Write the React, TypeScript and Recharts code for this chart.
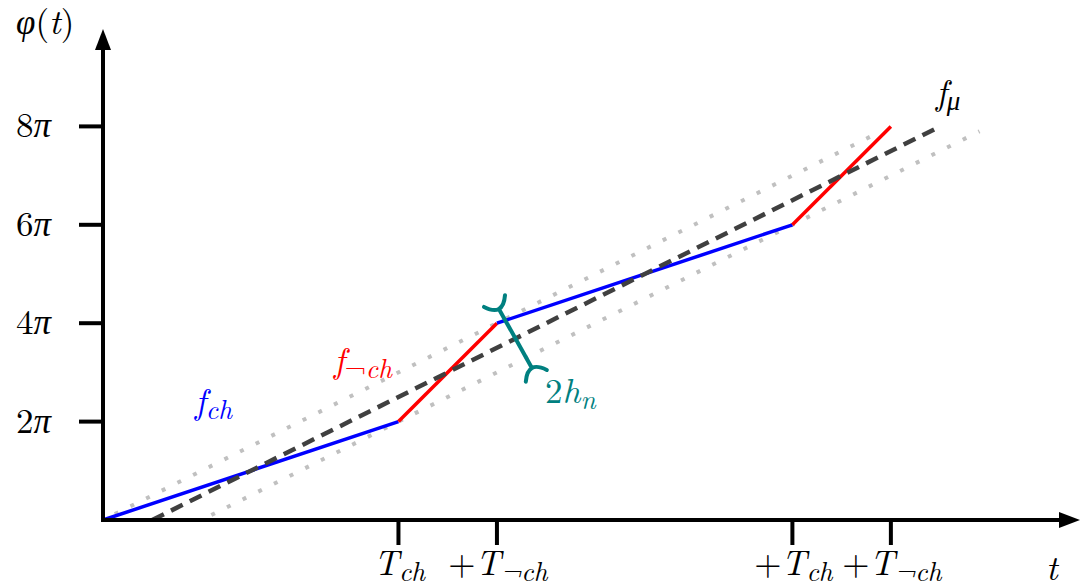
import React from "react";
import { ComposedChart, Line, XAxis, YAxis, ReferenceLine, Customized } from "recharts";

// time in units (T_ch = 3, T_notch = 1), phase in multiples of π
const chSeg1 = [{ t: 0, y: 0 }, { t: 3, y: 2 }];
const notchSeg1 = [{ t: 3, y: 2 }, { t: 4, y: 4 }];
const chSeg2 = [{ t: 4, y: 4 }, { t: 7, y: 6 }];
const notchSeg2 = [{ t: 7, y: 6 }, { t: 8, y: 8 }];
const meanLine = [{ t: 0.5, y: 0 }, { t: 8.5, y: 8 }];
const upperBound = [{ t: 0.12, y: 0.12 }, { t: 7.9, y: 7.9 }];
const lowerBound = [{ t: 1.1, y: 0.1 }, { t: 8.9, y: 7.9 }];
const braceEnds = [{ t: 4.02, y: 4.29 }, { t: 4.355, y: 3.09 }];

const xTickValues = [3, 4, 7, 8];
const xTickPrefix = ["", "+", "+", "+"];
const xTickSub = ["ch", "¬ch", "ch", "¬ch"];
const yTickValues = [2, 4, 6, 8];
const yTickLabels = ["2", "4", "6", "8"];

const FONT = '"Latin Modern Roman"';
const FS = 35;
const SFS = 27;
const TS: React.CSSProperties = { fontFamily: FONT, fontSize: FS };
const IT: React.CSSProperties = { fontStyle: "italic" };
const SUB: React.CSSProperties = { fontSize: SFS };

const XTick = (props: any) => {
  const { x, y, payload } = props;
  const i = xTickValues.indexOf(payload.value);
  return (
    <g>
      <line x1={x} y1={y} x2={x} y2={y + 25} stroke="#000" strokeWidth={4} />
      <text x={x + 1} y={y + 55} textAnchor="middle" style={TS} fill="#000">
        <tspan>{xTickPrefix[i]}</tspan>
        <tspan style={IT}>T</tspan>
        <tspan style={{ ...IT, ...SUB }} dy={6}>{xTickSub[i]}</tspan>
      </text>
    </g>
  );
};

const YTick = (props: any) => {
  const { x, y, payload } = props;
  const i = yTickValues.indexOf(payload.value);
  return (
    <g>
      <line x1={x - 24} y1={y} x2={x} y2={y} stroke="#000" strokeWidth={4} />
      <text x={x - 52} y={y + 11} textAnchor="end" style={TS} fill="#000">
        <tspan>{yTickLabels[i]}</tspan>
        <tspan style={IT}>π</tspan>
      </text>
    </g>
  );
};

const XArrow = (p: any) => {
  const { x1, y1, x2, y2 } = p;
  return (
    <g>
      <line x1={x1 - 2} y1={y1} x2={x2 - 18} y2={y2} stroke="#000" strokeWidth={4} />
      <polygon points={`${x2},${y2} ${x2 - 21},${y2 - 8} ${x2 - 21},${y2 + 8}`} fill="#000" />
    </g>
  );
};

const YArrow = (p: any) => {
  const { x1, y1, x2, y2 } = p;
  return (
    <g>
      <line x1={x1} y1={y1 + 2} x2={x2} y2={y2 + 18} stroke="#000" strokeWidth={4} />
      <polygon points={`${x2},${y2} ${x2 - 8},${y2 + 21} ${x2 + 8},${y2 + 21}`} fill="#000" />
    </g>
  );
};

const Brace = (p: any) => {
  const { x1, y1, x2, y2 } = p;
  const dx = x2 - x1;
  const dy = y2 - y1;
  const L = Math.sqrt(dx * dx + dy * dy) || 1;
  const ux = dx / L;
  const uy = dy / L;
  const nx = -uy;
  const ny = ux;
  const w = 12;
  const d = 9;
  const a1x = x1 + w * nx - d * ux, a1y = y1 + w * ny - d * uy;
  const b1x = x1 - w * nx - d * ux, b1y = y1 - w * ny - d * uy;
  const c1x = x1 + d * ux, c1y = y1 + d * uy;
  const a2x = x2 + w * nx + d * ux, a2y = y2 + w * ny + d * uy;
  const b2x = x2 - w * nx + d * ux, b2y = y2 - w * ny + d * uy;
  const c2x = x2 - d * ux, c2y = y2 - d * uy;
  const path = `M${x1},${y1} L${x2},${y2} M${a1x},${a1y} Q${c1x},${c1y} ${b1x},${b1y} M${a2x},${a2y} Q${c2x},${c2y} ${b2x},${b2y}`;
  return <path d={path} stroke="#008080" strokeWidth={4} fill="none" strokeLinecap="round" />;
};

const Labels = () => (
  <g>
    <text x={16} y={34} fill="#000" style={TS}>
      <tspan style={IT}>φ</tspan>
      <tspan>(</tspan>
      <tspan style={IT}>t</tspan>
      <tspan>)</tspan>
    </text>
    <text x={1046} y={580} fill="#000" style={{ ...TS, ...IT }}>t</text>
    <text x={936} y={104} fill="#000" style={{ ...TS, ...IT }}>
      <tspan>f</tspan>
      <tspan style={SUB} dy={6}>μ</tspan>
    </text>
    <text x={195} y={413} fill="#0000ff" style={{ ...TS, ...IT }}>
      <tspan>f</tspan>
      <tspan style={SUB} dy={6}>ch</tspan>
    </text>
    <text x={334} y={372} fill="#ff0000" style={{ ...TS, ...IT }}>
      <tspan>f</tspan>
      <tspan style={{ ...SUB, fontStyle: "normal" }} dy={6}>¬</tspan>
      <tspan style={SUB}>ch</tspan>
    </text>
    <text x={545} y={403} fill="#008080" style={TS}>
      <tspan>2</tspan>
      <tspan style={IT}>h</tspan>
      <tspan style={{ ...IT, ...SUB }} dy={6}>n</tspan>
    </text>
  </g>
);

const lineCommon = {
  type: "linear" as const,
  dataKey: "y",
  dot: false,
  activeDot: false,
  isAnimationActive: false,
};

export default function App() {
  return (
    <div style={{ position: "absolute", left: 0, top: 0, width: 1081, height: 587, background: "#fff" }}>
      <ComposedChart width={1081} height={587} margin={{ top: 28, right: 3, bottom: 0, left: 0 }}>
        <XAxis
          dataKey="t"
          type="number"
          domain={[0, 9.9]}
          ticks={xTickValues}
          axisLine={false}
          tickLine={false}
          tickSize={0}
          tickMargin={0}
          height={67}
          tick={<XTick />}
          interval={0}
        />
        <YAxis
          type="number"
          domain={[0, 10]}
          ticks={yTickValues}
          axisLine={false}
          tickLine={false}
          tickSize={0}
          tickMargin={0}
          width={103}
          tick={<YTick />}
          interval={0}
        />
        <Line {...lineCommon} data={upperBound} stroke="#c0c0c0" strokeWidth={4} strokeDasharray="4 13.5" />
        <Line {...lineCommon} data={lowerBound} stroke="#c0c0c0" strokeWidth={4} strokeDasharray="4 13.5" />
        <Line {...lineCommon} data={chSeg1} stroke="#0000ff" strokeWidth={3.5} />
        <Line {...lineCommon} data={notchSeg1} stroke="#ff0000" strokeWidth={3.5} />
        <Line {...lineCommon} data={chSeg2} stroke="#0000ff" strokeWidth={3.5} />
        <Line {...lineCommon} data={notchSeg2} stroke="#ff0000" strokeWidth={3.5} />
        <Line {...lineCommon} data={meanLine} stroke="#404040" strokeWidth={4.5} strokeDasharray="13 8" />
        <ReferenceLine
          segment={[{ x: 0, y: 0 }, { x: 9.92, y: 0 }]}
          ifOverflow="visible"
          shape={XArrow}
        />
        <ReferenceLine
          segment={[{ x: 0, y: 0 }, { x: 0, y: 9.98 }]}
          ifOverflow="visible"
          shape={YArrow}
        />
        <ReferenceLine
          segment={[{ x: braceEnds[0].t, y: braceEnds[0].y }, { x: braceEnds[1].t, y: braceEnds[1].y }]}
          ifOverflow="visible"
          shape={Brace}
        />
        <Customized component={Labels} />
      </ComposedChart>
    </div>
  );
}
